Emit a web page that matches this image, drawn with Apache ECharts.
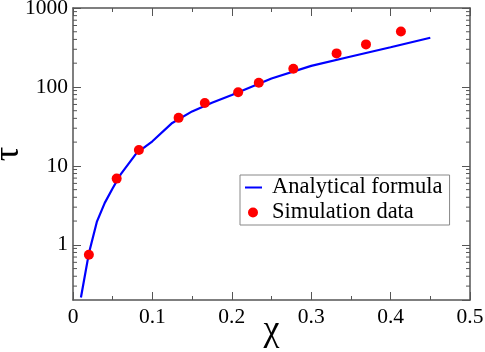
<!DOCTYPE html>
<html><head><meta charset="utf-8">
<script src="https://cdn.jsdelivr.net/npm/echarts@6/dist/echarts.min.js"></script>
<style>html,body{margin:0;padding:0;background:#fff}#c{width:485px;height:352px}</style>
</head><body><div id="c"></div>
<script>
const lineX = [0.01,0.02,0.03,0.04,0.05,0.06,0.08,0.10,0.125,0.15,0.175,0.20,0.25,0.30,0.35,0.40,0.45];
const lineY = [0.215,0.78,1.95,3.4,5.2,7.8,14.5,20.5,35,49,63,79,128,185,243,318,420];
const simX = [0.02,0.055,0.083,0.133,0.166,0.208,0.234,0.2775,0.332,0.369,0.413];
const simY = [0.75,6.9,15.9,40.6,62.5,85.8,113,170,266,346,505];
const minorY = [0.3,0.4,0.5,0.6,0.7,0.8,0.9,2,3,4,5,6,7,8,9,20,30,40,50,60,70,80,90,200,300,400,500,600,700,800,900];
const xTicks = ['0','0.1','0.2','0.3','0.4','0.5'];
const yTicks = ['1','10','100','1000'];

const font = 'Liberation Serif';
const axCol = '#555';
const chart = echarts.init(document.getElementById('c'));
const lineData = lineX.map((x,i)=>[x,lineY[i]]);
const simData = simX.map((x,i)=>[x,simY[i]]);
const minorData = minorY.map(v=>[0,v]);
const tick = () => ({show:true,inside:true,length:8,lineStyle:{color:axCol,width:1}});
const axLine = () => ({show:true,onZero:false,lineStyle:{color:axCol,width:1.5}});
const minor = () => ({show:true,splitNumber:2,length:4,lineStyle:{color:axCol,width:1}});

chart.setOption({
  animation:false,
  grid:{left:73,right:15,top:8,bottom:52,containLabel:false,outerBoundsMode:'none'},
  legend:{
    data:[
      {name:'Analytical formula',icon:'path://M0,0L0,0ZM0,5L17,5L17,7L0,7ZM22,12L22,12Z'},
      {name:'Simulation data',icon:'path://M0,0L0,0ZM22,12L22,12ZM13,6A5,5 0 1,1 3,6A5,5 0 1,1 13,6Z'}
    ],
    orient:'vertical', left:240, top:175,
    borderColor:'#888', borderWidth:1, padding:[1,7,1,5], itemGap:2,
    itemWidth:22, itemHeight:12,
    textStyle:{fontFamily:font,fontSize:22.5,color:'#000'}
  },
  xAxis:[{
    type:'value',position:'bottom',min:0,max:0.5,interval:0.1,
    name:'χ',nameLocation:'middle',nameGap:13,nameMoveOverlap:false,
    nameTextStyle:{fontFamily:font,fontSize:36,color:'#000'},
    axisLine:axLine(), axisTick:tick(), minorTick:minor(),
    axisLabel:{fontFamily:font,fontSize:21.5,color:'#000',margin:6,
      formatter:(v)=>xTicks[Math.round(v*10)]},
    splitLine:{show:false},minorSplitLine:{show:false}
  },{
    type:'value',position:'top',min:0,max:0.5,interval:0.1,
    axisLine:axLine(), axisTick:tick(), minorTick:minor(),
    axisLabel:{show:false},splitLine:{show:false},minorSplitLine:{show:false}
  }],
  yAxis:[{
    type:'log',position:'left',logBase:10,min:0.2,max:1000,
    name:'τ',nameLocation:'middle',nameGap:46,nameRotate:90,nameMoveOverlap:false,
    nameTextStyle:{fontFamily:font,fontSize:36,color:'#000'},
    axisLine:axLine(), axisTick:tick(),
    axisLabel:{fontFamily:font,fontSize:21.5,color:'#000',margin:5,showMinLabel:false,
      formatter:(v)=>{const l=Math.log10(v);const i=Math.round(l);return (i>=0&&i<yTicks.length&&Math.abs(l-i)<1e-6)?yTicks[i]:'';}},
    splitLine:{show:false}
  },{
    type:'log',position:'right',logBase:10,min:0.2,max:1000,
    axisLine:axLine(), axisTick:tick(),
    axisLabel:{show:false},splitLine:{show:false}
  }],
  series:[{
    name:'Analytical formula',type:'line',data:lineData,
    symbol:'none',smooth:false,
    lineStyle:{color:'#0000ff',width:2.2},itemStyle:{color:'#0000ff'},z:3
  },{
    name:'Simulation data',type:'scatter',data:simData,
    symbol:'circle',symbolSize:10,itemStyle:{color:'#ff0000',opacity:1},z:4
  },{
    type:'custom',data:minorData,silent:true,clip:false,
    renderItem:(params,api)=>{
      const p = api.coord([0, api.value(1)]);
      const cs = params.coordSys;
      const st = {stroke:axCol,lineWidth:1};
      return {type:'group',children:[
        {type:'line',shape:{x1:cs.x,y1:p[1],x2:cs.x+4,y2:p[1]},style:st},
        {type:'line',shape:{x1:cs.x+cs.width-4,y1:p[1],x2:cs.x+cs.width,y2:p[1]},style:st}
      ]};
    }
  }]
});
</script></body></html>
